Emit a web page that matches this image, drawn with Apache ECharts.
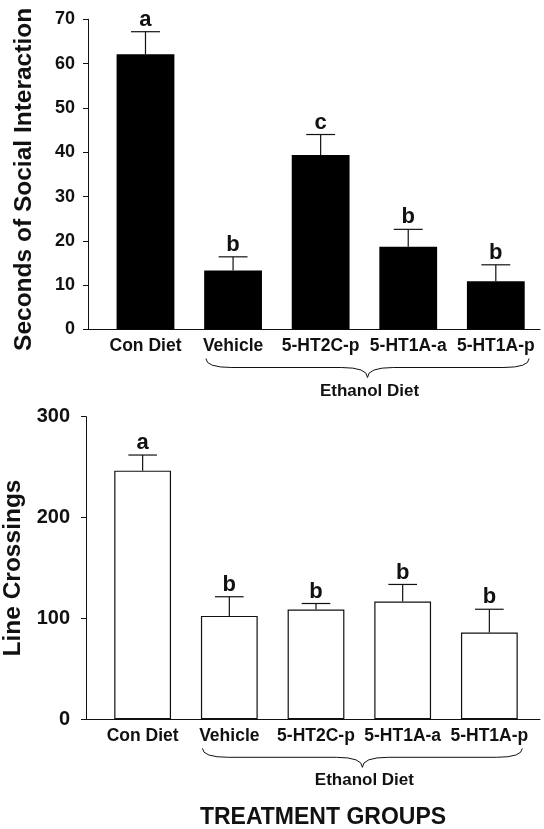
<!DOCTYPE html>
<html>
<head>
<meta charset="utf-8">
<script src="https://cdn.jsdelivr.net/npm/echarts@6/dist/echarts.min.js"></script>
<style>
  html, body { margin: 0; padding: 0; background: #fff; }
  #chart { width: 544px; height: 829px; }
</style>
</head>
<body>
<div id="chart"></div>
<script>
// ---------- data ----------
const categories = ['Con Diet', 'Vehicle', '5-HT2C-p', '5-HT1A-a', '5-HT1A-p'];

const socialMean = [62.1, 13.3, 39.4, 18.7, 10.9];
const socialSem = [5.1, 3.1, 4.6, 3.9, 3.7];
const socialLetters = ['a', 'b', 'c', 'b', 'b'];
const socialTicks = [0, 10, 20, 30, 40, 50, 60, 70];

const crossMean = [246.5, 102.5, 108.8, 116.7, 86.1];
const crossSem = [15.5, 19.0, 6.0, 17.0, 23.0];
const crossLetters = ['a', 'b', 'b', 'b', 'b'];
const crossTicks = [0, 100, 200, 300];

const socialTitle = 'Seconds of Social Interaction';
const crossTitle = 'Line Crossings';
const groupLabel = 'Ethanol Diet';
const xTitle = 'TREATMENT GROUPS';

// ---------- styling ----------
const FONT = '"Liberation Sans", Arial, Helvetica, sans-serif';
const INK = '#111';

const chart = echarts.init(document.getElementById('chart'), null, { renderer: 'canvas' });

function errorSeries(xi, yi, means, sems, letters) {
  return {
    type: 'custom',
    xAxisIndex: xi,
    yAxisIndex: yi,
    z: 5,
    data: means.map((m, i) => [i, m, sems[i]]),
    renderItem: function (params, api) {
      const i = api.value(0), m = api.value(1), s = api.value(2);
      const base = api.coord([i, m]);
      const top = api.coord([i, m + s]);
      const band = api.size([1, 0])[0];
      const hw = band * 0.165;
      return {
        type: 'group',
        children: [
          { type: 'line', shape: { x1: base[0], y1: base[1], x2: top[0], y2: top[1] },
            style: { stroke: INK, lineWidth: 1.2 } },
          { type: 'line', shape: { x1: top[0] - hw, y1: top[1], x2: top[0] + hw, y2: top[1] },
            style: { stroke: INK, lineWidth: 1.2 } },
          { type: 'text', style: { text: letters[params.dataIndex], x: top[0], y: top[1] - 1,
            align: 'center', verticalAlign: 'bottom', fill: INK,
            font: 'bold 22px ' + FONT } }
        ]
      };
    }
  };
}

const tickLabelTop = { color: INK, fontFamily: FONT, fontWeight: 'bold', fontSize: 18, margin: 13 };
const tickLabelBottom = { color: INK, fontFamily: FONT, fontWeight: 'bold', fontSize: 20, margin: 16 };
const catLabel = { color: INK, fontFamily: FONT, fontWeight: 'bold', fontSize: 17.5, margin: 8, interval: 0 };
const lineStyle = { color: INK, width: 1 };

const option = {
  animation: false,
  backgroundColor: '#fff',
  title: {
    text: xTitle, left: 323, top: 806, textAlign: 'center', padding: 0,
    textStyle: { color: INK, fontFamily: FONT, fontWeight: 'bold', fontSize: 23 }
  },
  grid: [
    { left: 101.7, right: 4.4, top: 19.3, height: 310.2, outerBoundsMode: 'none', containLabel: false },   // top bars
    { left: 88, right: 4, top: 19.3, height: 310.2, outerBoundsMode: 'none', containLabel: false },        // top baseline
    { left: 99.3, right: 11.3, top: 416.7, height: 302.6, outerBoundsMode: 'none', containLabel: false },  // bottom bars
    { left: 86, right: 4, top: 416.7, height: 302.6, outerBoundsMode: 'none', containLabel: false }        // bottom baseline
  ],
  xAxis: [
    { gridIndex: 0, type: 'category', data: categories, axisLine: { show: false },
      axisTick: { show: false }, axisLabel: catLabel },
    { gridIndex: 1, type: 'value', min: 0, max: 1, axisLine: { show: true, onZero: false, lineStyle },
      axisTick: { show: false }, axisLabel: { show: false }, splitLine: { show: false } },
    { gridIndex: 2, type: 'category', data: categories, axisLine: { show: false },
      axisTick: { show: false }, axisLabel: catLabel },
    { gridIndex: 3, type: 'value', min: 0, max: 1, axisLine: { show: true, onZero: false, lineStyle },
      axisTick: { show: false }, axisLabel: { show: false }, splitLine: { show: false } }
  ],
  yAxis: [
    { gridIndex: 0, type: 'value', min: socialTicks[0], max: socialTicks[socialTicks.length - 1],
      interval: socialTicks[1] - socialTicks[0], offset: 13.7,
      axisLine: { show: true, lineStyle }, axisTick: { show: true, length: 5, lineStyle },
      splitLine: { show: false }, axisLabel: tickLabelTop,
      name: socialTitle, nameLocation: 'middle', nameRotate: 90, nameGap: 51,
      nameTextStyle: { color: INK, fontFamily: FONT, fontWeight: 'bold', fontSize: 24.5, padding: [0, 10, 0, 0] } },
    { gridIndex: 1, type: 'value', min: 0, max: 1, show: false },
    { gridIndex: 2, type: 'value', min: crossTicks[0], max: crossTicks[crossTicks.length - 1],
      interval: crossTicks[1] - crossTicks[0], offset: 13.3,
      axisLine: { show: true, lineStyle }, axisTick: { show: true, length: 5, lineStyle },
      splitLine: { show: false }, axisLabel: tickLabelBottom,
      name: crossTitle, nameLocation: 'middle', nameRotate: 90, nameGap: 49,
      nameTextStyle: { color: INK, fontFamily: FONT, fontWeight: 'bold', fontSize: 24.5 } },
    { gridIndex: 3, type: 'value', min: 0, max: 1, show: false }
  ],
  series: [
    { type: 'bar', xAxisIndex: 0, yAxisIndex: 0, data: socialMean, barCategoryGap: '34%',
      itemStyle: { color: '#000', borderColor: '#000', borderWidth: 0 } },
    errorSeries(0, 0, socialMean, socialSem, socialLetters),
    { type: 'bar', xAxisIndex: 2, yAxisIndex: 2, data: crossMean, barCategoryGap: '34.5%',
      itemStyle: { color: '#fff', borderColor: INK, borderWidth: 1.2 } },
    errorSeries(2, 2, crossMean, crossSem, crossLetters)
  ]
};

chart.setOption(option);

// ---------- brace annotations derived from the axes ----------
function braceGraphics(axisIdx) {
  const finder = { xAxisIndex: axisIdx, yAxisIndex: axisIdx };
  const p1 = chart.convertToPixel(finder, [categories[1], 0]);
  const p2 = chart.convertToPixel(finder, [categories[2], 0]);
  const pN = chart.convertToPixel(finder, [categories[categories.length - 1], 0]);
  const band = p2[0] - p1[0];
  const axisY = p1[1];
  const x0 = p1[0] - 0.31 * band;
  const x1 = pN[0] + 0.38 * band;
  const xm = (x0 + x1) / 2;
  const yTop = axisY + 29, yMid = axisY + 38, yTip = axisY + 48;
  const r = 26;
  const st = { stroke: INK, lineWidth: 1, fill: null };
  return [
    { type: 'bezierCurve', shape: { x1: x0, y1: yTop, x2: x0 + r, y2: yMid, cpx1: x0, cpy1: yMid }, style: st },
    { type: 'line', shape: { x1: x0 + r, y1: yMid, x2: xm - r, y2: yMid }, style: st },
    { type: 'bezierCurve', shape: { x1: xm - r, y1: yMid, x2: xm, y2: yTip, cpx1: xm, cpy1: yMid }, style: st },
    { type: 'bezierCurve', shape: { x1: xm, y1: yTip, x2: xm + r, y2: yMid, cpx1: xm, cpy1: yMid }, style: st },
    { type: 'line', shape: { x1: xm + r, y1: yMid, x2: x1 - r, y2: yMid }, style: st },
    { type: 'bezierCurve', shape: { x1: x1 - r, y1: yMid, x2: x1, y2: yTop, cpx1: x1, cpy1: yMid }, style: st },
    { type: 'text', x: xm + 2, y: axisY + 53,
      style: { text: groupLabel, align: 'center', verticalAlign: 'top', fill: INK,
               font: 'bold 17px ' + FONT } }
  ];
}

chart.setOption({ graphic: braceGraphics(0).concat(braceGraphics(2)) });
</script>
</body>
</html>
